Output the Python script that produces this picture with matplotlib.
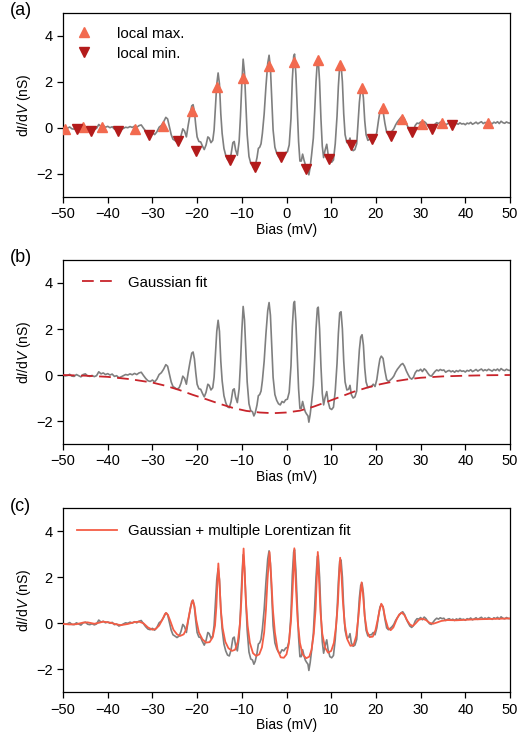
import matplotlib
matplotlib.use("Agg")
import matplotlib.pyplot as plt

plt.rcParams['font.family'] = ['Liberation Sans', 'DejaVu Sans']
plt.rcParams['mathtext.fontset'] = 'custom'
plt.rcParams['mathtext.rm'] = 'Liberation Sans'
plt.rcParams['mathtext.it'] = 'Liberation Sans:italic'
plt.rcParams['font.size'] = 10

bias = [-50.0, -49.5, -49.0, -48.5, -48.0, -47.5, -47.0, -46.5, -46.0, -45.5,
        -45.0, -44.5, -44.0, -43.5, -43.0, -42.5, -42.0, -41.5, -41.0, -40.5,
        -40.0, -39.5, -39.0, -38.5, -38.0, -37.5, -37.0, -36.5, -36.0, -35.5,
        -35.0, -34.5, -34.0, -33.5, -33.0, -32.5, -32.0, -31.5, -31.0, -30.5,
        -30.0, -29.5, -29.0, -28.5, -28.0, -27.5, -27.0, -26.6, -26.2, -25.8,
        -25.4, -25.0, -24.5, -24.0, -23.6, -23.2, -22.8, -22.4, -22.0, -21.6,
        -21.2, -20.9, -20.6, -20.3, -20.0, -19.6, -19.2, -18.8, -18.4, -18.0,
        -17.6, -17.3, -16.9, -16.5, -16.2, -15.9, -15.6, -15.3, -15.0, -14.7,
        -14.4, -14.0, -13.6, -13.2, -12.8, -12.4, -12.0, -11.7, -11.4, -11.0,
        -10.6, -10.3, -10.0, -9.7, -9.4, -9.1, -8.8, -8.4, -8.0, -7.6,
        -7.3, -7.0, -6.6, -6.3, -6.0, -5.7, -5.4, -5.0, -4.6, -4.2,
        -3.9, -3.6, -3.3, -3.0, -2.6, -2.2, -1.8, -1.4, -1.0, -0.6,
        -0.2, 0.2, 0.6, 1.0, 1.3, 1.6, 1.8, 2.1, 2.4, 2.7,
        3.0, 3.3, 3.6, 3.9, 4.2, 4.5, 4.8, 5.0, 5.3, 5.6,
        6.0, 6.3, 6.6, 6.9, 7.1, 7.4, 7.7, 8.0, 8.3, 8.6,
        9.0, 9.3, 9.7, 10.1, 10.5, 10.9, 11.3, 11.6, 11.9, 12.2,
        12.5, 12.8, 13.1, 13.5, 13.9, 14.2, 14.5, 14.9, 15.3, 15.7,
        16.0, 16.3, 16.6, 16.9, 17.2, 17.5, 17.8, 18.2, 18.6, 19.0,
        19.4, 19.8, 20.2, 20.6, 20.9, 21.2, 21.6, 22.0, 22.4, 22.8,
        23.2, 23.6, 24.0, 24.4, 24.8, 25.2, 25.6, 26.0, 26.4, 26.8,
        27.2, 27.6, 28.0, 28.4, 28.8, 29.2, 29.6, 30.0, 30.4, 30.8,
        31.2, 31.6, 32.0, 32.4, 32.8, 33.2, 33.6, 34.0, 34.4, 34.8,
        35.2, 35.6, 36.0, 36.4, 36.8, 37.2, 37.6, 38.0, 38.4, 38.8,
        39.2, 39.6, 40.0, 40.4, 40.8, 41.2, 41.6, 42.0, 42.4, 42.8,
        43.2, 43.6, 44.0, 44.4, 44.8, 45.2, 45.6, 46.0, 46.4, 46.8,
        47.2, 47.6, 48.0, 48.4, 48.8, 49.2, 49.6, 50.0]
didv = [0.00, -0.04, -0.02, 0.03, -0.05, -0.06, 0.02, -0.03, -0.08, 0.02,
        0.05, -0.04, -0.06, -0.02, -0.07, -0.03, 0.14, 0.05, 0.09, 0.02,
        0.06, 0.00, 0.04, -0.06, -0.03, -0.12, -0.08, -0.03, 0.02, 0.00,
        0.05, 0.01, 0.07, 0.02, 0.09, 0.12, -0.02, -0.15, -0.25, -0.28,
        -0.22, -0.30, -0.18, 0.02, 0.10, 0.25, 0.45, 0.38, 0.05, -0.30,
        -0.50, -0.55, -0.62, -0.55, -0.35, -0.05, -0.15, -0.40, 0.10, 0.55,
        0.95, 1.00, 0.70, 0.10, -0.40, -0.60, -0.62, -0.80, -0.95, -0.75,
        -0.40, -0.45, -0.65, -0.55, -0.10, 0.90, 1.90, 2.38, 1.90, 0.60,
        -0.25, -0.90, -1.20, -1.38, -1.42, -1.15, -0.65, -0.60, -0.95, -1.20,
        -0.60, 0.50, 1.90, 2.98, 2.40, 1.00, -0.30, -1.25, -1.55, -1.60,
        -1.78, -1.65, -1.30, -0.90, -0.85, -0.70, -0.25, 0.60, 1.80, 2.80,
        3.15, 2.60, 1.20, -0.10, -0.85, -1.10, -1.25, -1.30, -1.15, -1.20,
        -1.08, -1.05, -0.75, 0.40, 2.10, 3.10, 3.20, 2.30, 0.80, -0.60,
        -1.45, -1.45, -1.15, -1.40, -1.60, -1.70, -1.78, -2.05, -1.70, -1.20,
        -0.45, 0.70, 2.00, 2.90, 2.95, 2.00, 0.40, -0.80, -1.30, -1.00,
        -0.72, -1.15, -1.45, -1.50, -1.40, -0.70, 0.50, 1.80, 2.70, 2.75,
        2.00, 0.60, -0.30, -0.65, -0.62, -0.45, -0.85, -1.00, -0.95, -0.70,
        0.20, 1.10, 1.65, 1.75, 1.30, 0.30, -0.30, -0.55, -0.50, -0.50,
        -0.40, -0.50, -0.20, 0.35, 0.70, 0.82, 0.72, 0.20, -0.20, -0.28,
        -0.22, -0.15, -0.05, 0.12, 0.25, 0.35, 0.45, 0.50, 0.38, 0.18,
        0.02, -0.12, -0.18, -0.10, 0.10, 0.20, 0.18, 0.25, 0.15, 0.27,
        0.20, 0.08, -0.02, -0.05, 0.05, 0.15, 0.22, 0.18, 0.24, 0.20,
        0.22, 0.12, 0.17, 0.20, 0.14, 0.18, 0.12, 0.19, 0.15, 0.21,
        0.16, 0.18, 0.13, 0.20, 0.17, 0.23, 0.15, 0.19, 0.24, 0.17,
        0.22, 0.26, 0.18, 0.23, 0.19, 0.25, 0.21, 0.17, 0.24, 0.20,
        0.26, 0.18, 0.28, 0.22, 0.19, 0.25, 0.21, 0.20]

# local extrema markers (panel a)
max_x = [-49.6, -45.5, -41.2, -34.0, -27.6, -21.2, -15.5, -9.7, -3.9, 1.6,
         7.0, 12.0, 16.8, 21.5, 25.8, 30.2, 34.7, 45.1]
max_y = [-0.06, 0.04, 0.04, -0.07, 0.09, 0.72, 1.75, 2.14, 2.70, 2.87,
         2.94, 2.71, 1.71, 0.84, 0.38, 0.16, 0.22, 0.22]
min_x = [-46.9, -43.7, -37.8, -30.7, -24.3, -20.2, -12.6, -7.05, -1.2, 4.3,
         9.5, 14.4, 19.1, 23.4, 28.0, 32.6, 37.0]
min_y = [-0.06, -0.14, -0.14, -0.32, -0.57, -1.00, -1.41, -1.70, -1.26, -1.81,
         -1.38, -0.75, -0.51, -0.35, -0.17, -0.07, 0.12]

# Gaussian background fit (panel b)
gauss_x = [-50, -45, -40, -35, -30, -27, -24, -21, -18, -15, -12, -9, -6, -3,
           0, 3, 6, 9, 12, 15, 18, 21, 24, 27, 30, 35, 40, 45, 50]
gauss_y = [0.00, -0.03, -0.08, -0.18, -0.33, -0.47, -0.65, -0.86, -1.05, -1.25,
           -1.43, -1.56, -1.63, -1.66, -1.63, -1.55, -1.38, -1.17, -0.95, -0.73,
           -0.55, -0.40, -0.28, -0.19, -0.12, -0.06, -0.03, -0.01, 0.00]

# Gaussian + Lorentzians fit (panel c)
fit_x = [-50, -48.5, -47, -45.5, -44.5, -43, -42, -41, -39.5, -38, -37, -35.5,
         -34, -33, -32, -31, -30, -29.3, -28.5, -27.8, -27.2, -26.9, -26.5, -26.0,
         -25.3, -24.5, -23.8, -23.0, -22.4, -21.9, -21.4, -21.0, -20.6, -20.2,
         -19.6, -18.8, -18.0, -17.2, -16.5, -16.0, -15.7, -15.5, -15.25, -15.0,
         -14.7, -14.3, -13.7, -13.0, -12.2, -11.5, -10.9, -10.4, -10.1, -9.85,
         -9.6, -9.35, -9.1, -8.7, -8.2, -7.5, -6.8, -6.1, -5.5, -5.0, -4.6,
         -4.25, -3.8, -3.4, -3.05, -2.6, -2.0, -1.3, -0.6, 0.0, 0.5, 1.0, 1.35,
         1.75, 2.15, 2.5, 3.0, 3.6, 4.4, 5.1, 5.6, 6.1, 6.5, 6.75, 7.0, 7.3, 7.6,
         8.0, 8.6, 9.3, 10.0, 10.6, 11.1, 11.5, 11.8, 12.0, 12.3, 12.6, 13.0,
         13.6, 14.3, 15.0, 15.6, 16.1, 16.5, 16.8, 17.1, 17.5, 18.0, 18.6, 19.3,
         19.9, 20.4, 20.8, 21.2, 21.6, 22.1, 22.7, 23.3, 23.9, 24.6, 25.2, 25.8,
         26.4, 27.0, 27.6, 28.2, 28.8, 29.6, 30.4, 31.2, 32.0, 32.8, 33.6, 34.6,
         36, 38, 40, 42, 44, 46, 48, 50]
fit_y = [-0.03, -0.05, -0.04, 0.03, 0.04, -0.02, 0.02, 0.07, 0.03, -0.05, -0.08, -0.03,
         0.05, 0.07, 0.00, -0.18, -0.28, -0.25, -0.10, 0.15, 0.40, 0.45, 0.35, 0.10,
         -0.28, -0.48, -0.55, -0.48, -0.25, 0.25, 0.75, 1.00, 0.75, 0.15,
         -0.40, -0.70, -0.84, -0.82, -0.60, -0.10, 0.70, 1.60, 2.60, 1.80,
         0.60, -0.20, -0.80, -1.08, -1.20, -1.15, -0.80, 0.00, 1.00, 2.20,
         3.25, 2.20, 1.00, -0.10, -0.85, -1.30, -1.42, -1.35, -1.05, -0.40, 0.60,
         1.90, 3.10, 1.90, 0.60, -0.40, -1.15, -1.48, -1.50, -1.35, -0.90, 0.10, 1.40,
         3.26, 1.40, 0.10, -0.85, -1.35, -1.52, -1.45, -1.15, -0.45, 0.60, 1.80, 3.10, 1.80, 0.50,
         -0.45, -1.05, -1.28, -1.20, -0.85, -0.10, 0.90, 2.20, 2.85, 2.10, 1.00, 0.00,
         -0.70, -0.98, -0.95, -0.55, 0.30, 1.20, 1.78, 1.30, 0.30, -0.35, -0.60, -0.58,
         -0.30, 0.15, 0.55, 0.85, 0.70, 0.20, -0.20, -0.30, -0.18, 0.15, 0.38, 0.46,
         0.35, 0.12, -0.05, -0.12, -0.02, 0.15, 0.20, 0.14, 0.02, -0.02, 0.03, 0.10,
         0.14, 0.13, 0.15, 0.17, 0.18, 0.19, 0.20, 0.21]

xticks = [-50, -40, -30, -20, -10, 0, 10, 20, 30, 40, 50]
yticks = [-2, 0, 2, 4]
panel_labels = ['(a)', '(b)', '(c)']

grey = '#7f7f7f'
c_max = '#f26a4f'
c_min = '#b31b1b'
c_gauss = '#c8242b'
c_fit = '#f45d45'

fig = plt.figure(figsize=(5.19, 7.42), dpi=100)
left, width, height = 0.1214, 0.8613, 0.248
bottoms = [0.7349, 0.4016, 0.0670]
axes = [fig.add_axes([left, b, width, height]) for b in bottoms]

for ax, lab in zip(axes, panel_labels):
    ax.plot(bias, didv, color=grey, lw=1.2, zorder=2)
    ax.set_xlim(-50, 50)
    ax.set_ylim(-3, 5)
    ax.set_xticks(xticks)
    ax.set_yticks(yticks)
    ax.set_xlabel('Bias (mV)', labelpad=1)
    ax.set_ylabel(r'd$I$/d$V$ (nS)', labelpad=2)
    ax.tick_params(direction='out', length=4, width=0.9, labelsize=10.5)
    for s in ax.spines.values():
        s.set_linewidth(0.9)
    pos = ax.get_position()
    fig.text(0.019, pos.y1 + 0.003, lab, fontsize=13, ha='left', va='center')

leg_fs = 10.8

ax = axes[0]
ax.plot(max_x, max_y, '^', color=c_max, ms=6.5, ls='none', label='local max.', zorder=3)
ax.plot(min_x, min_y, 'v', color=c_min, ms=6.5, ls='none', label='local min.', zorder=3)
ax.legend(loc='upper left', bbox_to_anchor=(0.0, 1 - 8 / 184), borderaxespad=0,
          frameon=False, fontsize=leg_fs, handletextpad=1.2, labelspacing=0.4)

ax = axes[1]
ax.plot(gauss_x, gauss_y, color=c_gauss, lw=1.3, dashes=(6.5, 3.5),
        label='Gaussian fit', zorder=3)
ax.legend(loc='upper left', bbox_to_anchor=(0.029, 0.948), borderaxespad=0,
          frameon=False, fontsize=leg_fs, handlelength=2.3, handletextpad=0.77)

ax = axes[2]
ax.plot(fit_x, fit_y, color=c_fit, lw=1.3, label='Gaussian + multiple Lorentizan fit', zorder=3)
ax.legend(loc='upper left', bbox_to_anchor=(0.018, 0.948), borderaxespad=0,
          frameon=False, fontsize=leg_fs, handlelength=2.67, handletextpad=0.73)

fig.savefig('out.png', dpi=100)
